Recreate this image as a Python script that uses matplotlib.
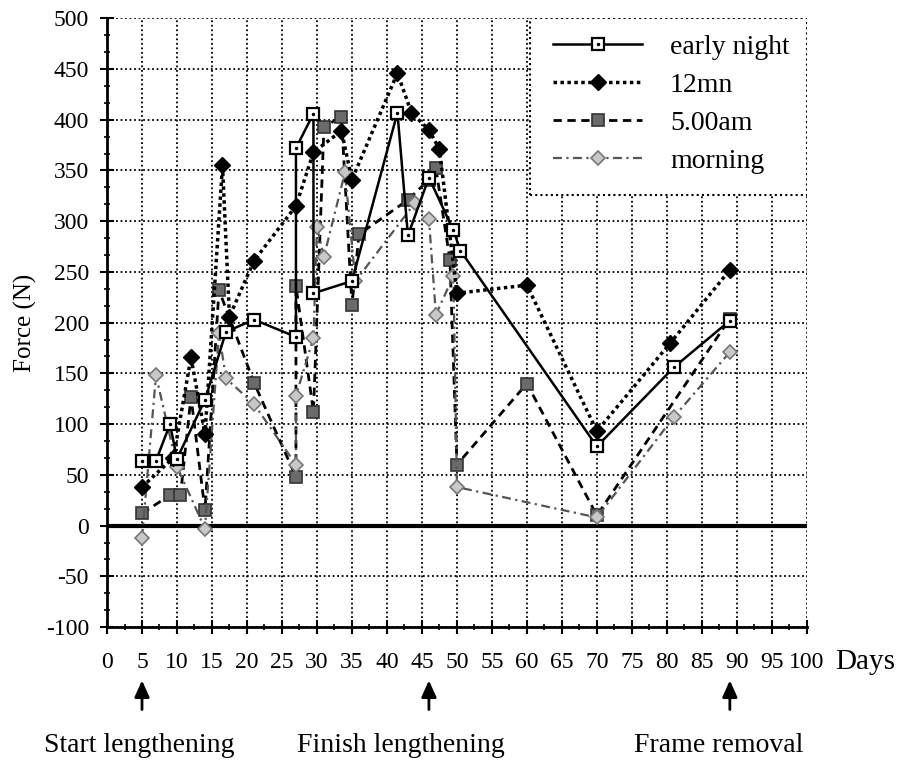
import matplotlib.pyplot as plt
from matplotlib.ticker import MultipleLocator
from matplotlib.patches import Rectangle

plt.rcParams['font.family'] = ['Liberation Serif', 'DejaVu Serif']
plt.rcParams['axes.unicode_minus'] = False

# early night (open squares, solid)
night_x = [5, 7, 9, 10, 14, 17, 21, 27, 27, 29.5, 29.5, 35, 41.5, 43, 46, 49.5, 50.5, 70, 81, 89]
night_y = [64, 64, 100, 66, 124, 191, 203, 186, 372, 406, 229, 241, 407, 286, 343, 291, 271, 78, 156, 202]

# 12mn (black diamonds, dotted)
mn_x = [5, 9.5, 12, 14, 16.5, 17.5, 21, 27, 29.5, 33.5, 35, 41.5, 43.5, 46, 47.5, 50, 60, 70, 80.5, 89]
mn_y = [38, 67, 166, 90, 355, 206, 261, 315, 368, 389, 341, 446, 407, 390, 371, 229, 237, 93, 180, 252]

# 5.00am (shaded squares, dashed)
am_x = [5, 9, 10.5, 12, 14, 16, 21, 27, 27, 29.5, 31, 33.5, 35, 36, 43, 46, 47, 49, 50, 60, 70, 89]
am_y = [12, 30, 30, 127, 15, 232, 141, 48, 236, 112, 393, 403, 217, 287, 321, 341, 352, 262, 60, 140, 10, 204]

# morning (light diamonds, dash-dot)
morn_x = [5, 7, 10, 14, 16, 17, 21, 27, 27, 29.5, 30, 31, 34, 35.5, 44, 46, 47, 49.5, 50, 70, 81, 89]
morn_y = [-12, 148, 58, -3, 190, 145, 120, 60, 128, 185, 294, 265, 348, 241, 318, 302, 208, 246, 38, 8, 107, 171]

events = [5, 46, 89]
event_labels = ['Start lengthening', 'Finish lengthening', 'Frame removal']
label_x = [4.6, 42, 87.4]

fig = plt.figure(figsize=(9.03, 7.61), dpi=100)
ax = fig.add_axes((0.1185, 0.176, 0.775, 0.800))

ax.set_xlim(0, 100)
ax.set_ylim(-100, 500)
ax.xaxis.set_major_locator(MultipleLocator(5))
ax.xaxis.set_minor_locator(MultipleLocator(2.5))
ax.yaxis.set_major_locator(MultipleLocator(50))
ax.yaxis.set_minor_locator(MultipleLocator(50 / 3))

ax.grid(True, which='major', color='k', linestyle=(0, (1, 1.5)), linewidth=1.3)
ax.set_axisbelow(True)
ax.spines['top'].set_visible(False)
ax.spines['right'].set_visible(False)
ax.spines['left'].set_linewidth(2)
ax.spines['bottom'].set_linewidth(2)

ax.tick_params(axis='both', which='major', direction='inout', length=10, width=1.5, labelsize=17)
ax.tick_params(axis='both', which='minor', direction='inout', length=5, width=1.2)
ax.tick_params(axis='x', which='major', pad=13)
ax.tick_params(axis='y', which='major', pad=8)

ax.axhline(0, color='k', linewidth=3, zorder=2)

l1, = ax.plot(night_x, night_y, color='k', lw=1.8, marker='s', ms=9,
              mfc='white', mec='k', mew=1.6, zorder=5, label='early night')
d1, = ax.plot(night_x, night_y, linestyle='none', marker='.', ms=3, color='k', zorder=6)
l2, = ax.plot(mn_x, mn_y, color='k', lw=2.5, linestyle=(0, (1, 1)), marker='D', ms=8,
              mfc='k', mec='k', zorder=4, label='12mn')
l3, = ax.plot(am_x, am_y, color='k', lw=2, linestyle=(0, (3, 2)), marker='s', ms=9,
              mfc='#6a6a6a', mec='#333333', mew=1.2, zorder=3, label='5.00am')
l4, = ax.plot(morn_x, morn_y, color='#555555', lw=1.6, linestyle=(0, (4, 2, 1, 2)), marker='D', ms=7,
              mfc='#c8c8c8', mec='#777777', mew=1.2, zorder=3, label='morning')

# legend box with dotted frame covering the grid
box = Rectangle((0.604, 0.709), 0.396, 0.291, transform=ax.transAxes, facecolor='white',
                edgecolor='k', linestyle=(0, (1, 1.5)), linewidth=1.5, zorder=2.5)
ax.add_patch(box)
leg = ax.legend([(l1, d1), l2, l3, l4], ['early night', '12mn', '5.00am', 'morning'],
                loc='upper left', bbox_to_anchor=(0.61, 1.005), frameon=False, borderpad=0.2,
                fontsize=20, handlelength=3.2, handletextpad=1.0, labelspacing=0.45)
leg.set_zorder(7)

ax.set_ylabel('Force (N)', fontsize=18, labelpad=6)
ax.text(1.083, -0.057, 'Days', transform=ax.transAxes, fontsize=21, ha='center', va='center')

for x, lx, lab in zip(events, label_x, event_labels):
    ax.annotate('', xy=(x, -0.083), xytext=(x, -0.14), xycoords=('data', 'axes fraction'),
                textcoords=('data', 'axes fraction'),
                arrowprops=dict(arrowstyle='-|>,head_length=1.0,head_width=0.45', color='k', lw=2))
    ax.annotate(lab, xy=(lx, -0.194), xycoords=('data', 'axes fraction'), ha='center', va='center',
                fontsize=20, annotation_clip=False)

fig.savefig('out.png', dpi=100)
